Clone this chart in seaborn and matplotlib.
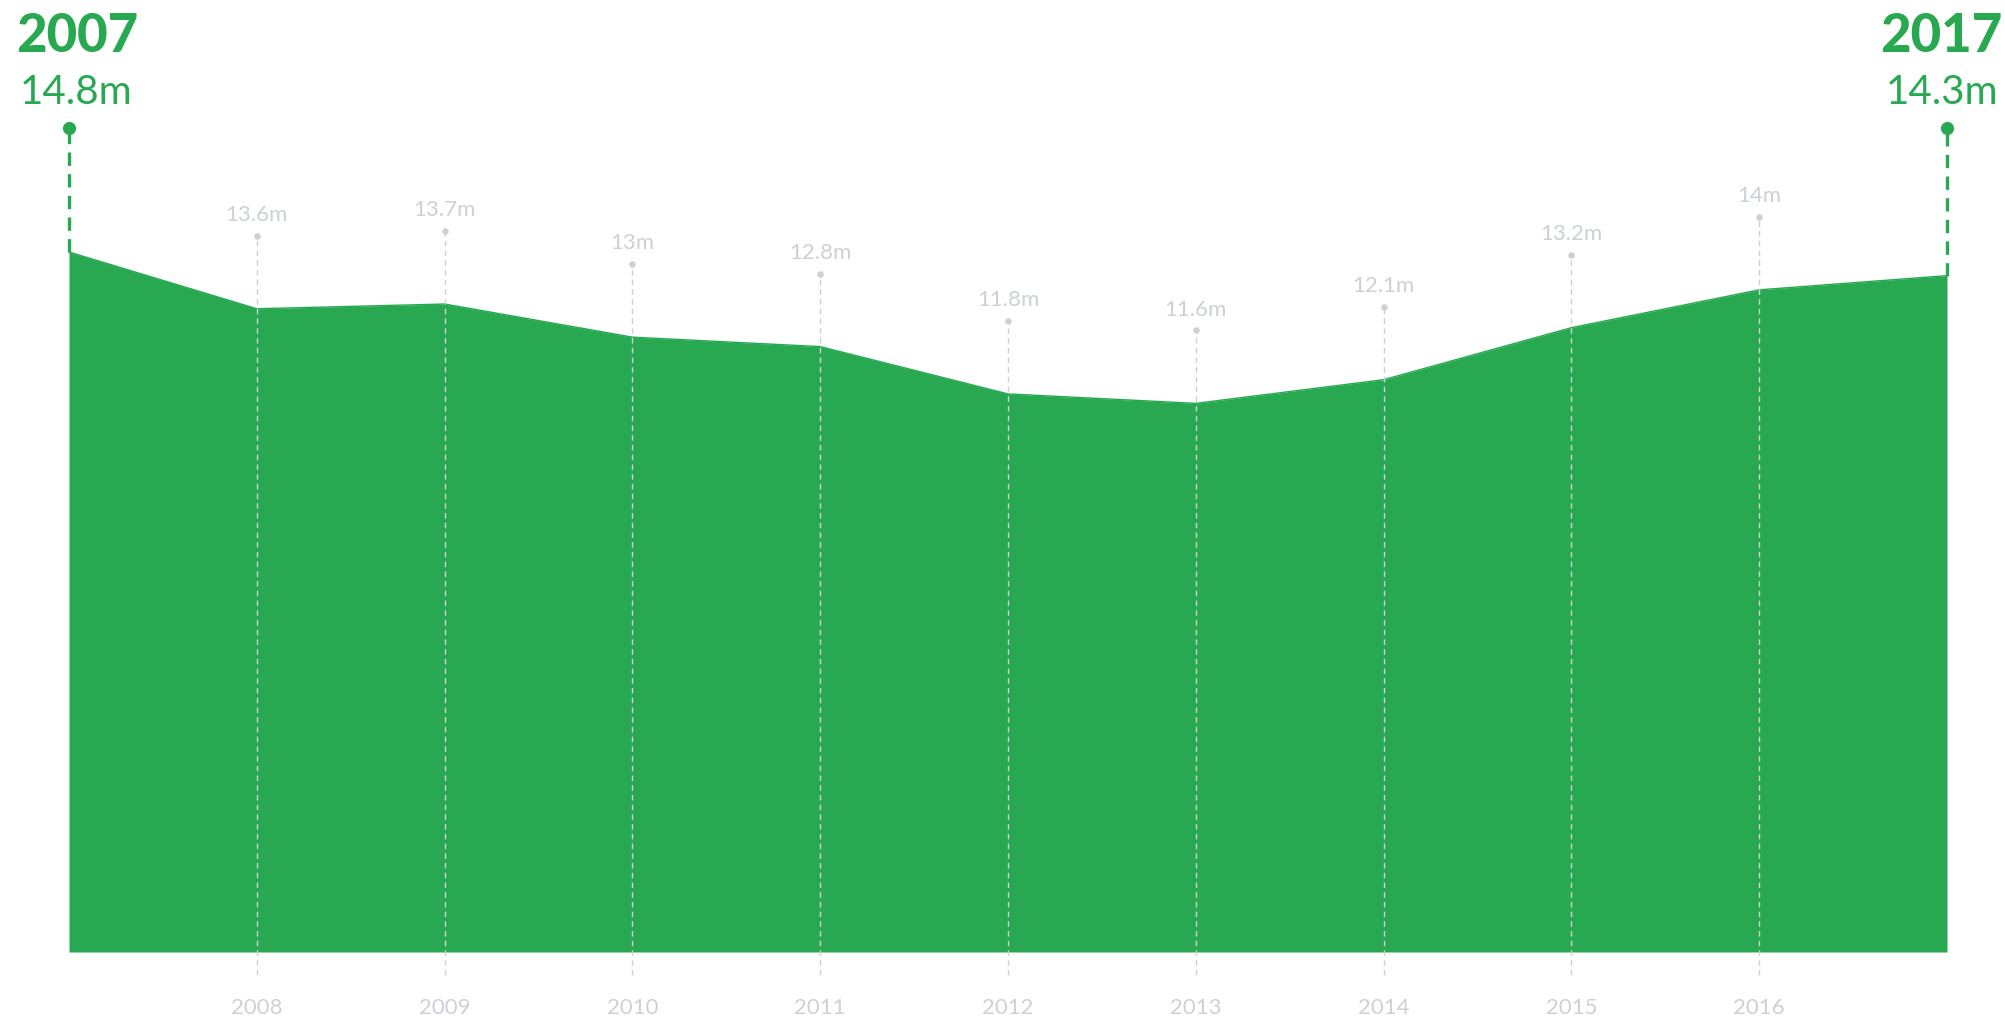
import matplotlib
matplotlib.use("Agg")
import matplotlib.pyplot as plt
import seaborn as sns
import pandas as pd

# Annual values (millions)
years = [2007, 2008, 2009, 2010, 2011, 2012, 2013, 2014, 2015, 2016, 2017]
values = [14.8, 13.6, 13.7, 13.0, 12.8, 11.8, 11.6, 12.1, 13.2, 14.0, 14.3]
value_labels = ["14.8m", "13.6m", "13.7m", "13m", "12.8m", "11.8m", "11.6m",
                "12.1m", "13.2m", "14m", "14.3m"]
year_labels = [str(y) for y in years]

df = pd.DataFrame({"year": years, "value": values})

GREEN = "#28a951"
GREY = "#cdd0d5"
FONT = "Lato"

sns.set_theme(style="white")
plt.rcParams["font.family"] = [FONT, "DejaVu Sans"]

W, H = 2006, 1019
fig = plt.figure(figsize=(W / 100, H / 100), dpi=100)
ax = fig.add_axes([0, 0, 1, 1])

# pixel geometry of the plotting frame
x0_px, x1_px = 69, 1947
base_px, top_px = 952, 252
ppy = (x1_px - x0_px) / (years[-1] - years[0])
ppm = (base_px - top_px) / values[0]
ax.set_xlim(years[0] - x0_px / ppy, years[-1] + (W - x1_px) / ppy)
ax.set_ylim(-(H - base_px) / ppm, base_px / ppm)
ax.axis("off")

# filled area
ax.fill_between(df["year"], 0, df["value"], color=GREEN, linewidth=0, zorder=1)
sns.lineplot(data=df, x="year", y="value", color=GREEN, linewidth=1.0,
             ax=ax, zorder=2, legend=False)

pin_off = 73 / ppm        # dot sits above the area edge
line_bottom = -(975 - base_px) / ppm

# intermediate year pins
mid = df.iloc[1:-1]
for yr, v, lab in zip(mid["year"], mid["value"], value_labels[1:-1]):
    ax.plot([yr, yr], [line_bottom, v + pin_off], color=GREY, lw=1.0,
            dashes=(4, 3), zorder=3)
    ax.annotate(lab, (yr, v + pin_off), xytext=(0, 15), textcoords="offset points",
                ha="center", va="center", fontsize=16, color=GREY, zorder=5)
sns.scatterplot(x=mid["year"], y=mid["value"] + pin_off, color=GREY, s=22,
                linewidth=0, ax=ax, zorder=4, legend=False)

# year ticks along the bottom
for yr, lab in zip(mid["year"], year_labels[1:-1]):
    ax.text(yr, -(1008 - base_px) / ppm, lab, ha="center", va="center",
            fontsize=16, color=GREY)

# endpoint pins
end_y = (base_px - 128) / ppm
for yr, v in [(years[0], values[0]), (years[-1], values[-1])]:
    ax.plot([yr, yr], [v, end_y], color=GREEN, lw=2.4, dashes=(4, 2.5), zorder=3)
sns.scatterplot(x=[years[0], years[-1]], y=[end_y, end_y], color=GREEN, s=90,
                linewidth=0, ax=ax, zorder=4, legend=False)

# endpoint headings
fig.text(77 / W, 1 - 36 / H, year_labels[0], ha="center", va="center",
         fontsize=38, fontweight="black", color=GREEN)
fig.text(76 / W, 1 - 93 / H, value_labels[0], ha="center", va="center",
         fontsize=29, color=GREEN)
fig.text(2002 / W, 1 - 36 / H, year_labels[-1], ha="right", va="center",
         fontsize=38, fontweight="black", color=GREEN)
fig.text(1998 / W, 1 - 93 / H, value_labels[-1], ha="right", va="center",
         fontsize=29, color=GREEN)

fig.savefig("out.png", dpi=100, facecolor="white")
